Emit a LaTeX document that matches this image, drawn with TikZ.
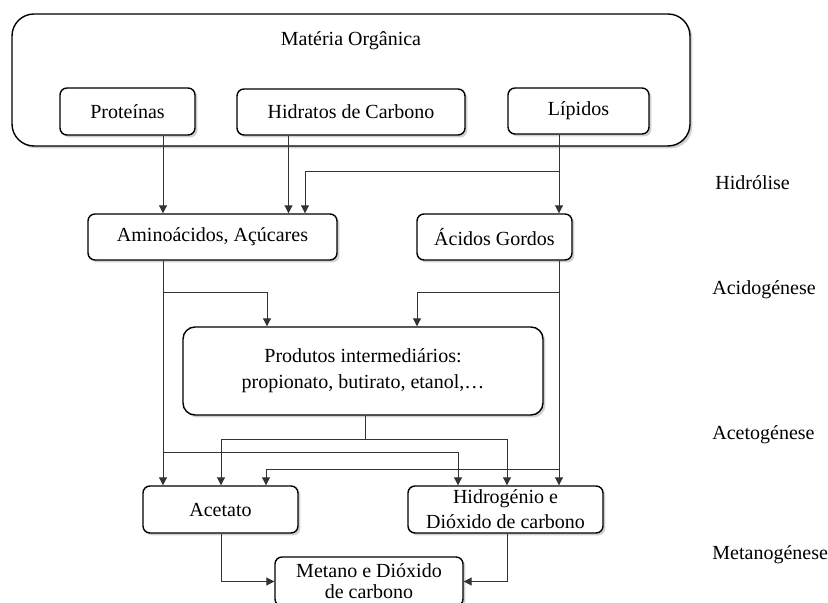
\documentclass[tikz,border=0pt]{standalone}
\usepackage{fontspec}
\setmainfont{Liberation Serif}
\usetikzlibrary{arrows.meta,shadows}
\begin{document}
\begin{tikzpicture}[x=0.5pt,y=-0.5pt,
  font=\fontsize{10}{12.5}\selectfont,
  box/.style={draw=black,line width=0.7pt,fill=white,rounded corners=3.5pt,
    align=center,inner sep=0pt,
    drop shadow={shadow xshift=1.2pt,shadow yshift=-1.2pt,fill=black!30,opacity=0.6}},
  arr/.style={draw=black!80,line width=0.5pt,-{Triangle[length=4pt,width=4pt]}},
  ln/.style={draw=black!80,line width=0.5pt},
  phase/.style={anchor=west,inner sep=0pt}]
\clip (0,0) rectangle (828,603);
% outer box
\node[box,rounded corners=11pt,minimum width=339pt,minimum height=66pt] (outer) at (351,80) {};
\node[inner sep=0pt] (title) at (351,41) {Matéria Orgânica};
% boxes
\node[box,minimum width=67.5pt,minimum height=23.5pt] (prot) at (127.5,111.5) {Proteínas};
\node[box,minimum width=114pt,minimum height=23pt] (hid) at (351,112) {Hidratos de Carbono};
\node[box,minimum width=70.5pt,minimum height=23pt] (lip) at (578.5,111) {Lípidos};
\node[box,minimum width=124.5pt,minimum height=23pt] (amino) at (212.5,237) {Aminoácidos, Açúcares};
\node[box,minimum width=77.5pt,minimum height=23pt] (acidos) at (494.5,237) {Ácidos Gordos};
\node[box,rounded corners=6pt,minimum width=180pt,minimum height=44pt,font=\fontsize{10}{13}\selectfont] (prod) at (363,371) {Produtos intermediários:\\propionato, butirato, etanol,…};
\node[box,minimum width=77.5pt,minimum height=23.5pt] (acet) at (220.5,509.5) {Acetato};
\node[box,minimum width=97.5pt,minimum height=23.5pt] (hidro) at (505.5,509.5) {Hidrogénio e\\Dióxido de carbono};
\node[box,minimum width=94pt,minimum height=24.5pt,font=\fontsize{10}{10.5}\selectfont] (metano) at (369,581.5) {Metano e Dióxido\\de carbono};
% phase labels
\node[phase] (l1) at (715,183) {Hidrólise};
\node[phase] (l2) at (712,290) {Acidogénese};
\node[phase] (l3) at (712,435) {Acetogénese};
\node[phase] (l4) at (712,555) {Metanogénese};
% helper coordinates
\coordinate (xa) at (163,0);
\coordinate (xb) at (288.5,0);
\coordinate (xc) at (305,0);
\coordinate (xd) at (559,0);
\coordinate (xe) at (267,0);
\coordinate (xf) at (417,0);
\coordinate (xg) at (365,0);
\coordinate (xh) at (221,0);
\coordinate (xi) at (507,0);
\coordinate (xj) at (458,0);
\coordinate (xk) at (266,0);
\coordinate (j1) at (559,172);
\coordinate (j2a) at (163,293);
\coordinate (j2b) at (559,293);
\coordinate (j3) at (365,439);
\coordinate (j4) at (163,452);
\coordinate (j5) at (559,469);
% connectors
\draw[arr] (prot.south -| xa) -- (amino.north -| xa);
\draw[arr] (hid.south -| xb) -- (amino.north -| xb);
\draw[arr] (lip.south -| xd) -- (acidos.north -| xd);
\draw[arr] (j1) -| (amino.north -| xc);
\draw[arr] (amino.south -| xa) -- (acet.north -| xa);
\draw[arr] (acidos.south -| xd) -- (hidro.north -| xd);
\draw[arr] (j2a) -| (prod.north -| xe);
\draw[arr] (j2b) -| (prod.north -| xf);
\draw[ln] (prod.south -| xg) -- (j3);
\draw[arr] (j3) -| (acet.north -| xh);
\draw[arr] (j3) -| (hidro.north -| xi);
\draw[arr] (j4) -| (hidro.north -| xj);
\draw[arr] (j5) -| (acet.north -| xk);
\draw[arr] (acet.south -| xh) |- (metano.west);
\draw[arr] (hidro.south -| xi) |- (metano.east);
\end{tikzpicture}
\end{document}
